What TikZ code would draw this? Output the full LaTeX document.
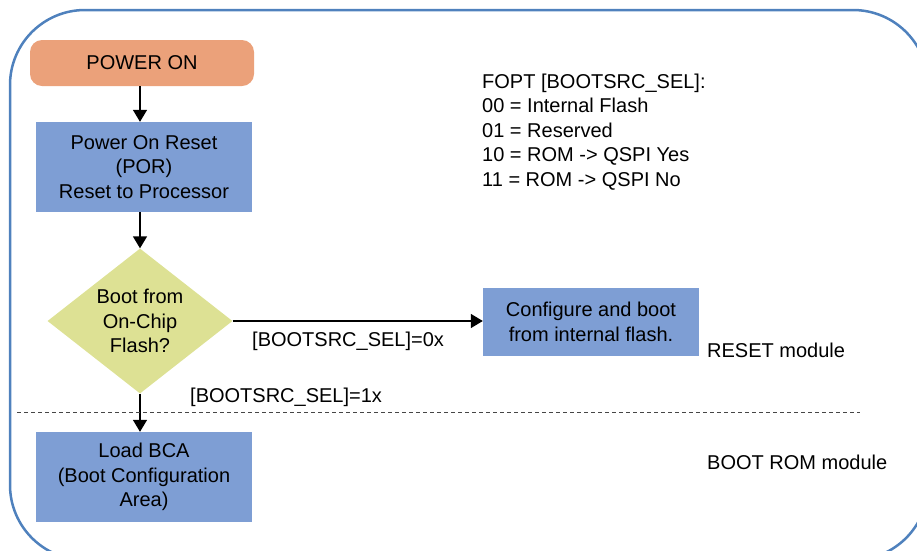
\documentclass[tikz,border=0pt]{standalone}
\usepackage{fontspec}
\setmainfont{Liberation Sans}
\usetikzlibrary{shapes.geometric,arrows.meta}
\definecolor{frameblue}{RGB}{79,129,189}
\definecolor{boxblue}{RGB}{126,158,212}
\definecolor{startorange}{RGB}{235,161,122}
\definecolor{decgreen}{RGB}{221,225,148}
\definecolor{dashgray}{RGB}{70,70,70}
\begin{document}
\begin{tikzpicture}[x=1pt,y=-1pt,font=\fontsize{20}{24.5}\selectfont,
  box/.style={fill=boxblue,minimum width=216pt,align=center,inner sep=0pt},
  flow/.style={-{Triangle[length=12pt,width=14pt]},line width=1.4pt},
  txt/.style={anchor=west,inner sep=0pt,align=left}]
\useasboundingbox (0,0) rectangle (917,550);
\clip (0,0) rectangle (917,550);
% frame round the whole flow
\draw[frameblue,line width=2.5pt,rounded corners=75pt] (10,10) rectangle (928,560);
% flow
\node[fill=startorange,rounded corners=12pt,minimum width=224pt,minimum height=46pt,inner sep=0pt] (on) at (142,63) {POWER ON};
\node[box,minimum height=90pt] (por) at (144,167) {Power On Reset\\(POR)\\Reset to Processor};
\node[diamond,fill=decgreen,minimum width=185pt,minimum height=145pt,inner sep=-3pt,align=center] (dec) at (140,321) {Boot from\\On-Chip\\Flash?};
\node[box,minimum height=68pt] (cfg) at (591,322) {Configure and boot\\from internal flash.};
\node[box,minimum height=90pt] (bca) at (144,477) {Load BCA\\(Boot Configuration\\Area)};
\draw[flow] (on.south -| dec) -- (por.north -| dec);
\draw[flow] (por.south -| dec) -- (dec.north);
\draw[flow] (dec.east) -- (cfg.west |- dec.east);
\draw[flow] (dec.south) -- (bca.north -| dec);
\node[txt] (sel0) at (252,341) {[BOOTSRC\_SEL]=0x};
\node[txt] (sel1) at (190,397) {[BOOTSRC\_SEL]=1x};
% module border
\coordinate (dl) at (17,412);
\coordinate (dr) at (860,412);
\draw[dashgray,line width=1pt,dash pattern=on 4pt off 3pt] (dl) -- (dr);
% notes
\node[txt] (fopt) at (482,132) {FOPT [BOOTSRC\_SEL]:\\00 = Internal Flash\\01 = Reserved\\10 = ROM -> QSPI Yes\\11 = ROM -> QSPI No};
\node[txt] (rst) at (707,350) {RESET module};
\node[txt] (brom) at (707,462) {BOOT ROM module};
\end{tikzpicture}
\end{document}
